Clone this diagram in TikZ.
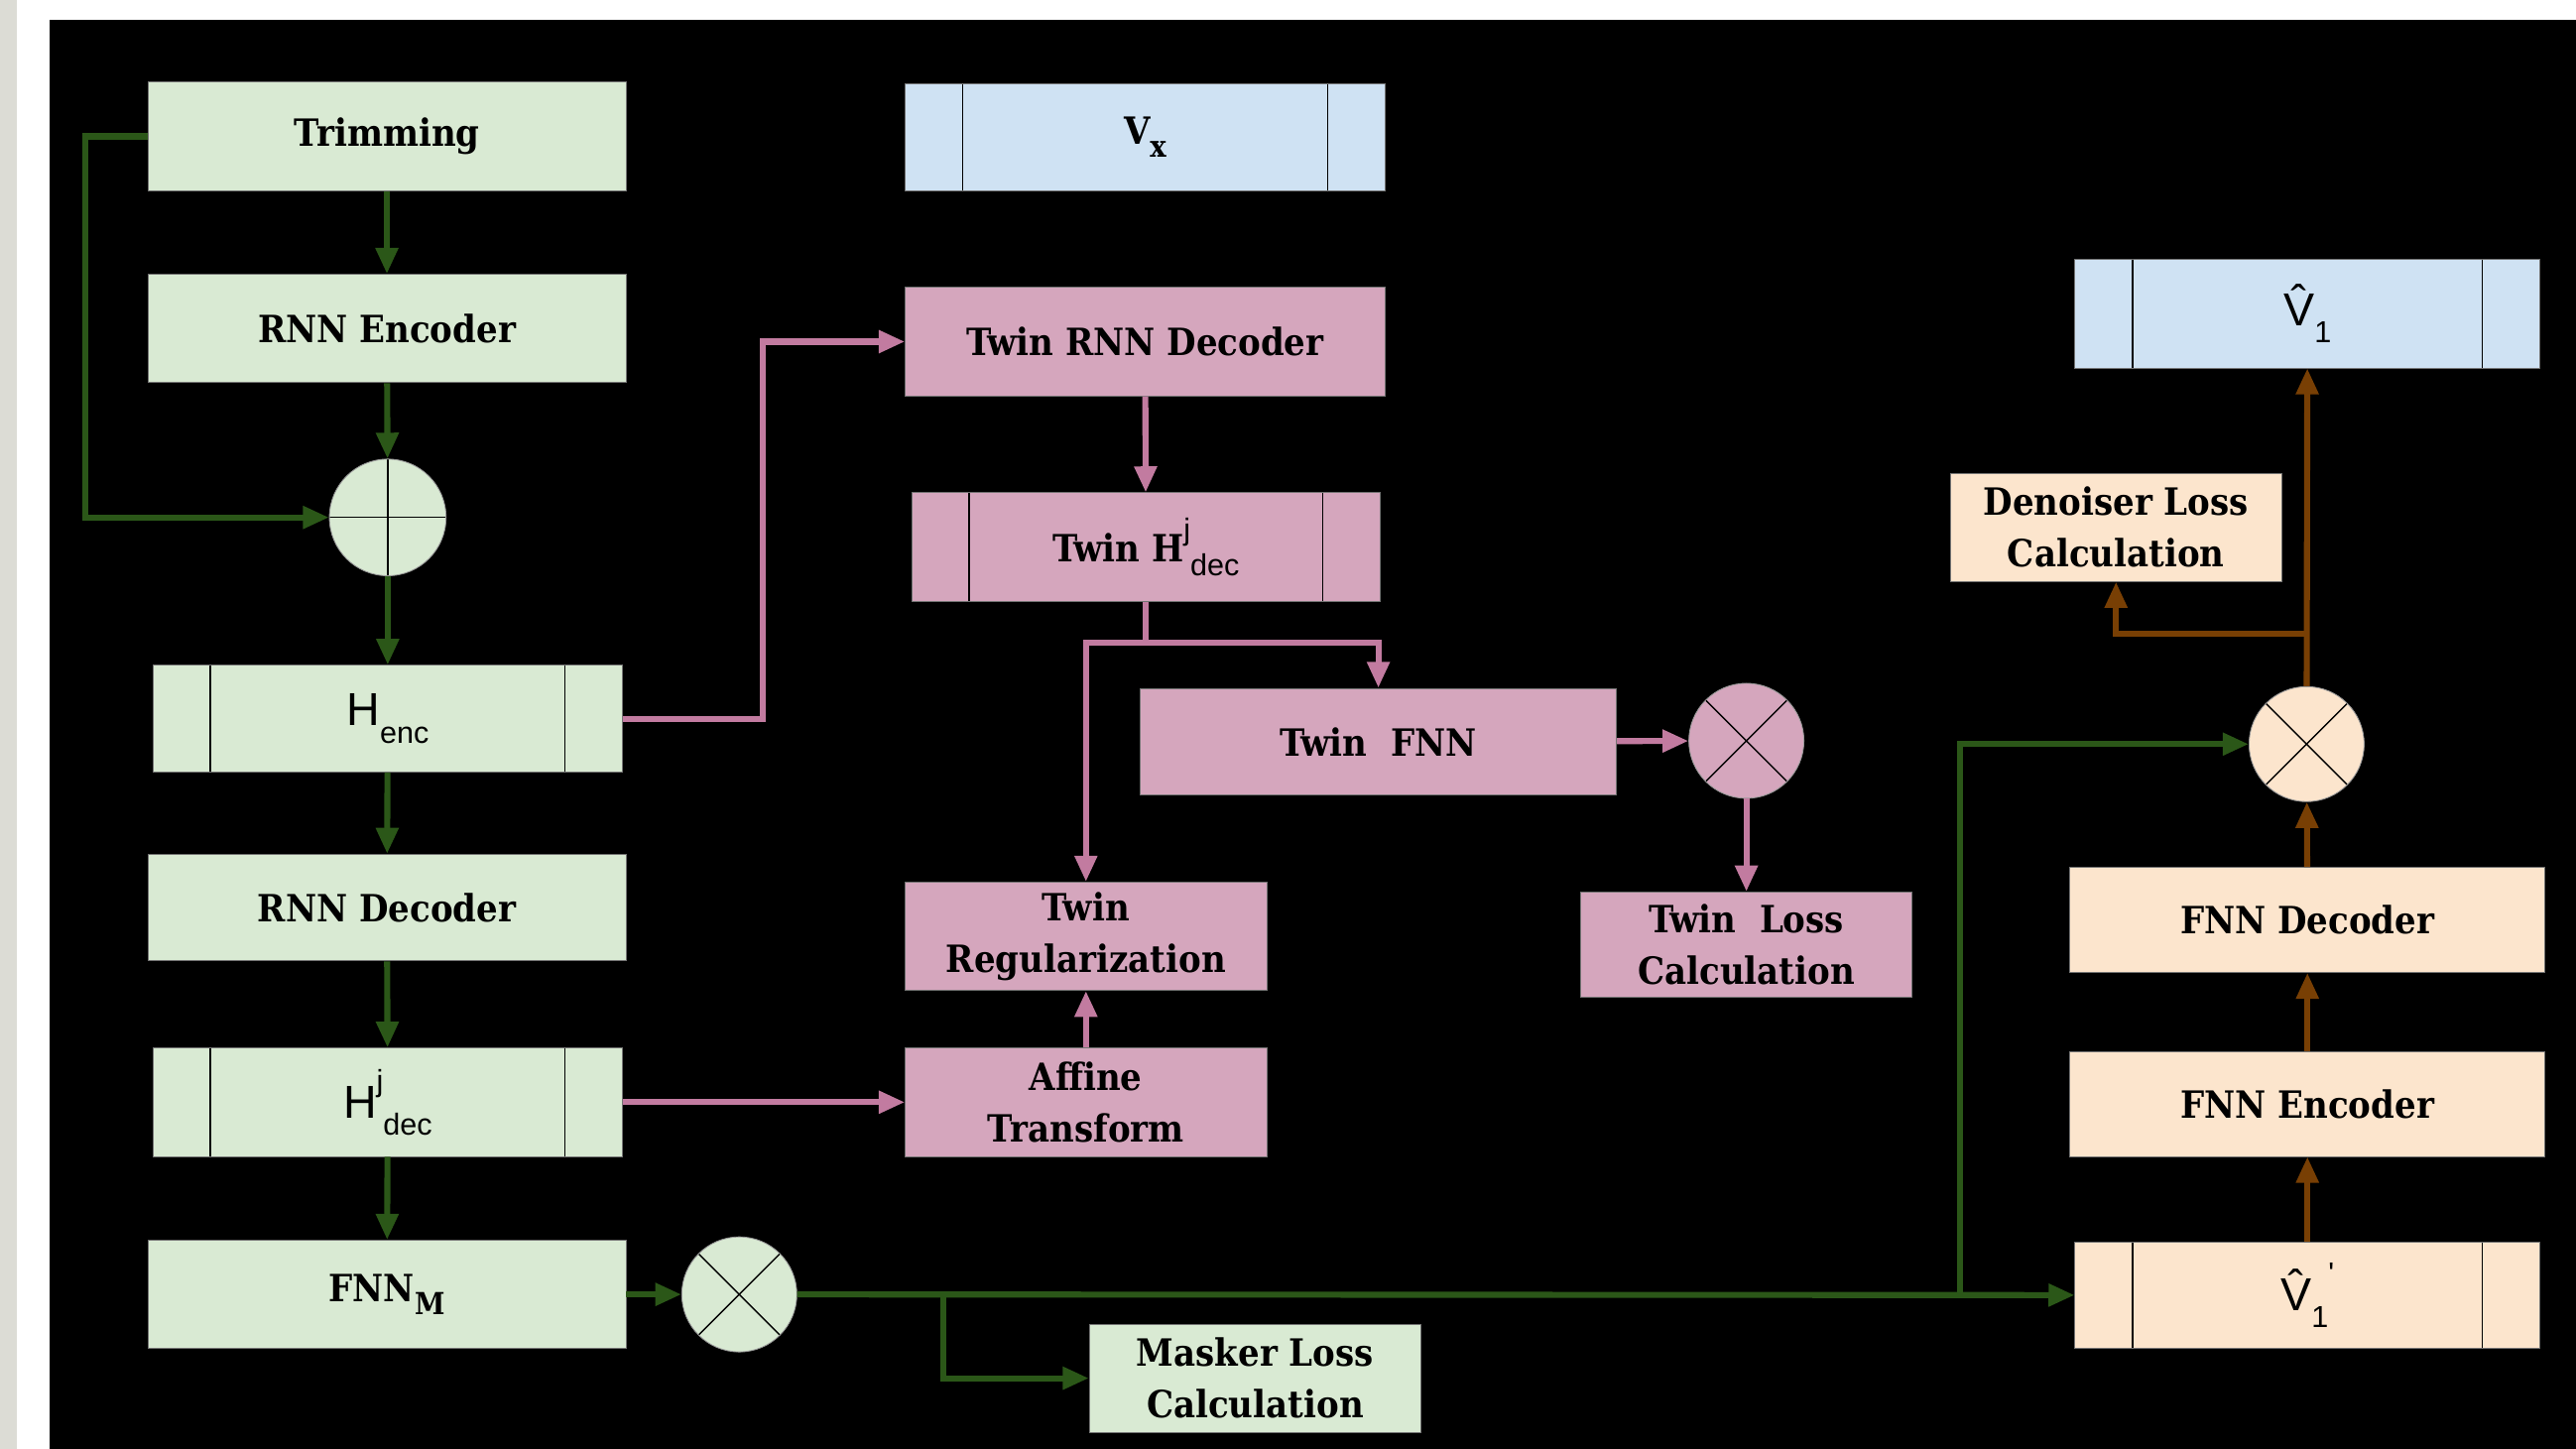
\documentclass[tikz,border=0pt]{standalone}
\usepackage{fontspec}
\setmainfont{DejaVu Serif Condensed}
\newfontfamily\sansf{Liberation Sans}
\usetikzlibrary{arrows.meta}

\definecolor{maskfill}{HTML}{D9EAD3}
\definecolor{twinfill}{HTML}{D5A6BD}
\definecolor{denfill}{HTML}{FCE5CD}
\definecolor{vecfill}{HTML}{CFE2F3}
\definecolor{maskline}{HTML}{2B5718}
\definecolor{twinline}{HTML}{C27BA0}
\definecolor{denline}{HTML}{783F04}
\definecolor{sidegray}{HTML}{DCDCD5}

% sub- and superscripts inside the labels
\newcommand{\lo}[1]{\raisebox{-0.7ex}{\fontsize{10.5}{10}\selectfont #1}}
\newcommand{\hi}[1]{\raisebox{1.1ex}{\fontsize{10.5}{10}\selectfont #1}}

\tikzset{
	block/.style={rectangle, draw=black!55, line width=0.3pt, inner sep=0pt,
		minimum height=1.32cm, align=center, font=\fontsize{13}{18}\selectfont\bfseries},
	vec/.style={block, path picture={
		\draw[black, line width=0.5pt]
		([xshift=0.7cm]path picture bounding box.south west) -- ([xshift=0.7cm]path picture bounding box.north west)
		([xshift=-0.7cm]path picture bounding box.south east) -- ([xshift=-0.7cm]path picture bounding box.north east);}},
	mul/.style={circle, draw=black!40, line width=0.3pt, minimum size=1.40cm, inner sep=0pt, path picture={
		\draw[black, line width=0.5pt]
		(path picture bounding box.north west) -- (path picture bounding box.south east)
		(path picture bounding box.south west) -- (path picture bounding box.north east);}},
	add/.style={circle, draw=black!40, line width=0.3pt, minimum size=1.42cm, inner sep=0pt, path picture={
		\draw[black, line width=0.5pt]
		(path picture bounding box.north) -- (path picture bounding box.south)
		(path picture bounding box.west) -- (path picture bounding box.east);}},
	flow/.style={line width=2.1pt, -{Triangle[length=9pt,width=7.5pt]}},
	gflow/.style={flow, draw=maskline},
	pflow/.style={flow, draw=twinline},
	bflow/.style={flow, draw=denline}
}

\begin{document}
\begin{tikzpicture}
	\useasboundingbox (0,0) rectangle (31.36,17.64);
	\fill[sidegray] (0,0) rectangle (0.2,17.64);
	\fill[white] (0.2,0) rectangle (31.36,17.64);
	\fill[black] (0.6,0) rectangle (31.36,17.40);

	% masker branch
	\node[block, fill=maskfill, minimum width=5.82cm] (trim) at (4.71,15.98) {Trimming};
	\node[block, fill=maskfill, minimum width=5.82cm] (rnnenc) at (4.71,13.64) {RNN Encoder};
	\node[add, fill=maskfill] (plus) at (4.72,11.34) {};
	\node[vec, fill=maskfill, minimum width=5.72cm, minimum height=1.30cm] (henc) at (4.72,8.89) {\sansf\mdseries\fontsize{16}{16}\selectfont H\lo{enc}};
	\node[block, fill=maskfill, minimum width=5.82cm, minimum height=1.30cm] (rnndec) at (4.71,6.59) {RNN Decoder};
	\node[vec, fill=maskfill, minimum width=5.72cm] (hdec) at (4.72,4.22) {\sansf\mdseries\fontsize{16}{16}\selectfont H\hi{j}\lo{dec}};
	\node[block, fill=maskfill, minimum width=5.82cm] (fnnm) at (4.71,1.88) {FNN\lo{M}};
	\node[mul, fill=maskfill] (mul1) at (9.00,1.88) {};
	\node[block, fill=maskfill, minimum width=4.04cm] (maskloss) at (15.28,0.86) {Masker Loss\\Calculation};

	% twin branch
	\node[vec, fill=vecfill, minimum width=5.84cm, minimum height=1.30cm] (vx) at (13.94,15.97) {V\lo{x}};
	\node[block, fill=twinfill, minimum width=5.84cm] (trnndec) at (13.94,13.48) {Twin RNN Decoder};
	\node[vec, fill=twinfill, minimum width=5.70cm] (thdec) at (13.95,10.98) {Twin H\hi{\sansf\mdseries j}\lo{\sansf\mdseries dec}};
	\node[block, fill=twinfill, minimum width=5.80cm, minimum height=1.30cm] (tfnn) at (16.78,8.61) {Twin\ \ FNN};
	\node[mul, fill=twinfill] (mul2) at (21.26,8.62) {};
	\node[block, fill=twinfill, minimum width=4.40cm] (treg) at (13.22,6.24) {Twin\\Regularization};
	\node[block, fill=twinfill, minimum width=4.40cm] (affine) at (13.22,4.22) {Affine\\Transform};
	\node[block, fill=twinfill, minimum width=4.04cm, minimum height=1.28cm] (tloss) at (21.26,6.14) {Twin\ \ Loss\\Calculation};

	% denoiser branch
	\node[vec, fill=vecfill, minimum width=5.66cm] (vhat) at (28.09,13.82) {\sansf\mdseries\fontsize{16}{16}\selectfont \^{V}\lo{1}};
	\node[block, fill=denfill, minimum width=4.04cm] (denloss) at (25.76,11.22) {Denoiser Loss\\Calculation};
	\node[mul, fill=denfill] (mul3) at (28.08,8.58) {};
	\node[block, fill=denfill, minimum width=5.78cm, minimum height=1.28cm] (fnndec) at (28.09,6.44) {FNN Decoder};
	\node[block, fill=denfill, minimum width=5.78cm, minimum height=1.28cm] (fnnenc) at (28.09,4.20) {FNN Encoder};
	\node[vec, fill=denfill, minimum width=5.66cm, minimum height=1.30cm] (vhatp) at (28.09,1.87) {\sansf\mdseries\fontsize{16}{16}\selectfont \^{V}\lo{1}\hi{'}};

	\coordinate (tsplit) at (13.95,9.82);
	\coordinate (msplit) at (11.48,1.88);
	\coordinate (dsplit) at (23.86,1.88);
	\coordinate (vsplit) at (28.08,9.92);

	\draw[gflow] (trim) -- (rnnenc);
	\draw[gflow] (trim.west) -- ++(-0.76,0) |- (plus.west);
	\draw[gflow] (rnnenc) -- (plus);
	\draw[gflow] (plus) -- (henc);
	\draw[gflow] (henc) -- (rnndec);
	\draw[gflow] (rnndec) -- (hdec);
	\draw[gflow] (hdec) -- (fnnm);
	\draw[gflow] (fnnm) -- (mul1);
	\draw[gflow] (mul1) -- (vhatp);
	\draw[gflow] (msplit) |- (maskloss.west);
	\draw[gflow] (dsplit) |- (mul3.west);

	\draw[pflow] (henc.east) -- ++(1.70,0) |- (trnndec.west);
	\draw[pflow] (hdec.east) -- (affine.west);
	\draw[pflow] (trnndec) -- (thdec);
	\draw[line width=2.1pt, twinline] (thdec.south) -- (tsplit);
	\draw[pflow] (tsplit) -| (treg.north);
	\draw[pflow] (tsplit) -| (tfnn.north);
	\draw[pflow] (affine) -- (treg);
	\draw[pflow] (tfnn) -- (mul2);
	\draw[pflow] (mul2) -- (tloss);

	\draw[bflow] (vhatp) -- (fnnenc);
	\draw[bflow] (fnnenc) -- (fnndec);
	\draw[bflow] (fnndec) -- (mul3);
	\draw[bflow] (mul3) -- (vhat);
	\draw[bflow] (vsplit) -| (denloss.south);
\end{tikzpicture}
\end{document}
